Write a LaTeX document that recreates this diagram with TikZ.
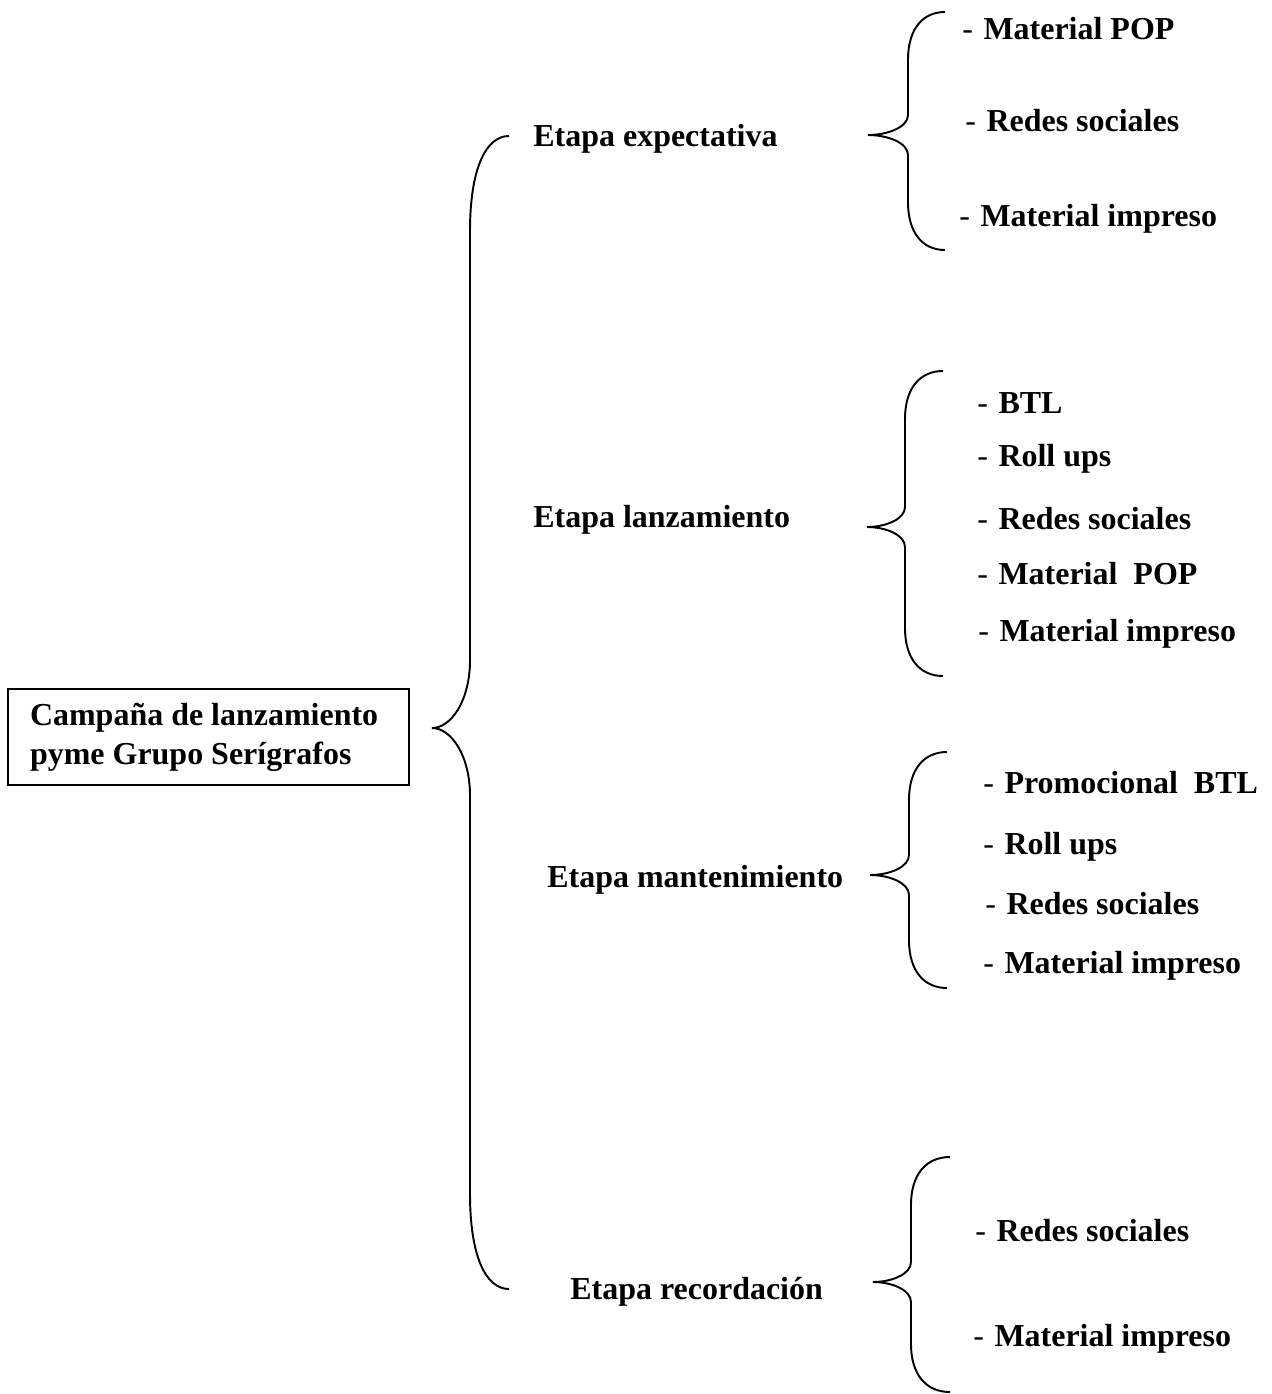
\documentclass[tikz,border=0pt]{standalone}
\usepackage{fontspec}
\setmainfont{Liberation Serif}
\usepackage{tikz}

% curly brace: end x, stem x, tip x, top y, tip y, bottom y, hook, neck
\newcommand{\bigcurl}[8]{%
  \draw[brc] (#1,#4) .. controls ({#2+0.4*(#1-#2)},#4) and (#2,{#4+0.35*#7}) .. (#2,{#4+#7})
    -- (#2,{#5-#8}) .. controls (#2,{#5-0.4*#8}) and ({#3+0.5*(#2-#3)},#5) .. (#3,#5)
    .. controls ({#3+0.5*(#2-#3)},#5) and (#2,{#5+0.4*#8}) .. (#2,{#5+#8})
    -- (#2,{#6-#7}) .. controls (#2,{#6-0.35*#7}) and ({#2+0.4*(#1-#2)},#6) .. (#1,#6);}
\newcommand{\dash}{{\mdseries-}\hspace*{0.21cm}}

\begin{document}
\begin{tikzpicture}[
  x=0.02cm, y=-0.02cm,
  font=\fontsize{18.2pt}{22.2pt}\selectfont\bfseries,
  brc/.style={line width=1.1pt},
  root/.style={draw,line width=1.1pt,text width=7.14cm,align=flush left,
               inner xsep=0.44cm,minimum height=1.92cm},
  stage/.style={anchor=base west,inner sep=0pt},
  item/.style={anchor=base west,inner sep=0pt}
]
\useasboundingbox (0,0) rectangle (1272,1394);
% ---- root ----
\node[root] (camp) at (208.5,737)
  {Campaña de lanzamiento\\pyme Grupo Serígrafos};
\bigcurl{509}{470}{432}{136}{728}{1289}{95}{68}

% ---- stages ----
\node[stage] (exp) at (533,146)  {Etapa expectativa};
\node[stage] (lan) at (533,527)  {Etapa lanzamiento};
\node[stage] (man) at (547,887)  {Etapa mantenimiento};
\node[stage] (rec) at (570,1299) {Etapa recordación};

% ---- expectativa ----
\bigcurl{945}{908}{868}{12}{135}{250}{48}{20}
\node[item] (e1) at (962,39)  {\dash Material POP};
\node[item] (e2) at (965,131) {\dash Redes sociales};
\node[item] (e3) at (959,226) {\dash Material impreso};

% ---- lanzamiento ----
\bigcurl{943}{905}{867}{371}{527}{676}{48}{20}
\node[item] (l1) at (977,413) {\dash BTL};
\node[item] (l2) at (977,466) {\dash Roll ups};
\node[item] (l3) at (977,529) {\dash Redes sociales};
\node[item] (l4) at (977,584) {\dash Material\ \ POP};
\node[item] (l5) at (978,641) {\dash Material impreso};

% ---- mantenimiento ----
\bigcurl{947}{909}{870}{752}{875}{988}{48}{20}
\node[item] (m1) at (983,793) {\dash Promocional\ \ BTL};
\node[item] (m2) at (983,854) {\dash Roll ups};
\node[item] (m3) at (985,914) {\dash Redes sociales};
\node[item] (m4) at (983,973) {\dash Material impreso};

% ---- recordacion ----
\bigcurl{950}{911}{873}{1157}{1282}{1392}{48}{20}
\node[item] (r1) at (975,1241) {\dash Redes sociales};
\node[item] (r2) at (973,1346) {\dash Material impreso};
\end{tikzpicture}
\end{document}
